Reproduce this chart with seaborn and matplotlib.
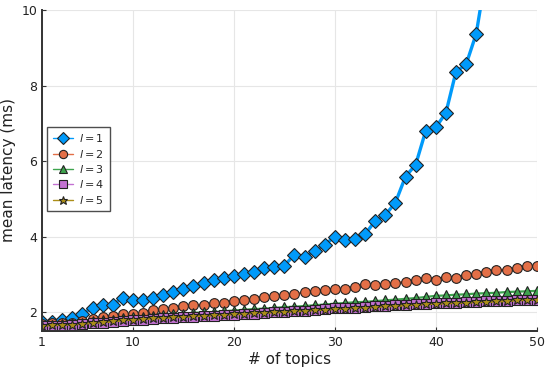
import matplotlib
matplotlib.use("Agg")
import matplotlib.pyplot as plt
import seaborn as sns
import pandas as pd

sns.set_theme(style="white")
plt.rcParams["font.family"] = ["DejaVu Sans"]

topics = list(range(1, 51))

lat_l1 = [1.74, 1.74, 1.80, 1.85, 1.95, 2.12, 2.18, 2.20, 2.37, 2.33,
          2.32, 2.37, 2.45, 2.53, 2.60, 2.70, 2.76, 2.85, 2.90, 2.95,
          3.00, 3.07, 3.18, 3.19, 3.23, 3.52, 3.46, 3.61, 3.78, 4.00,
          3.90, 3.93, 4.06, 4.42, 4.57, 4.90, 5.59, 5.90, 6.80, 6.89,
          7.28, 8.37, 8.56, 9.37, 11.0, 12.8, 14.5, 16.5, 18.6, 21.0]
lat_l2 = [1.68, 1.70, 1.70, 1.72, 1.75, 1.81, 1.88, 1.90, 1.95, 1.95,
          1.97, 2.05, 2.08, 2.11, 2.15, 2.18, 2.20, 2.23, 2.25, 2.30,
          2.33, 2.35, 2.40, 2.42, 2.45, 2.48, 2.52, 2.56, 2.59, 2.62,
          2.62, 2.66, 2.73, 2.71, 2.75, 2.78, 2.79, 2.84, 2.91, 2.86,
          2.93, 2.91, 2.99, 3.01, 3.05, 3.12, 3.12, 3.16, 3.23, 3.22]
lat_l3 = [1.66, 1.67, 1.68, 1.70, 1.72, 1.75, 1.78, 1.80, 1.84, 1.86,
          1.87, 1.90, 1.92, 1.94, 1.96, 1.98, 1.99, 2.00, 2.02, 2.04,
          2.06, 2.08, 2.09, 2.11, 2.13, 2.14, 2.16, 2.18, 2.20, 2.22,
          2.24, 2.26, 2.27, 2.29, 2.31, 2.33, 2.35, 2.37, 2.40, 2.43,
          2.44, 2.46, 2.47, 2.49, 2.50, 2.51, 2.53, 2.54, 2.55, 2.56]
lat_l4 = [1.62, 1.63, 1.64, 1.66, 1.68, 1.70, 1.72, 1.74, 1.76, 1.78,
          1.79, 1.81, 1.83, 1.84, 1.86, 1.88, 1.89, 1.90, 1.92, 1.93,
          1.95, 1.96, 1.98, 1.99, 2.01, 2.02, 2.04, 2.06, 2.08, 2.10,
          2.11, 2.12, 2.14, 2.15, 2.16, 2.18, 2.19, 2.21, 2.22, 2.24,
          2.24, 2.25, 2.26, 2.27, 2.28, 2.29, 2.30, 2.31, 2.31, 2.32]
lat_l5 = [1.64, 1.65, 1.66, 1.67, 1.69, 1.71, 1.73, 1.75, 1.78, 1.80,
          1.81, 1.83, 1.84, 1.86, 1.87, 1.89, 1.90, 1.91, 1.93, 1.94,
          1.95, 1.97, 1.98, 1.99, 2.00, 2.02, 2.03, 2.05, 2.06, 2.08,
          2.09, 2.11, 2.12, 2.13, 2.15, 2.16, 2.18, 2.19, 2.21, 2.22,
          2.23, 2.24, 2.25, 2.26, 2.27, 2.28, 2.29, 2.31, 2.32, 2.33]

series = [lat_l1, lat_l2, lat_l3, lat_l4, lat_l5]
labels = [r"$l = 1$", r"$l = 2$", r"$l = 3$", r"$l = 4$", r"$l = 5$"]
colors = ["#009AFA", "#E36F47", "#3EA44E", "#C371D2", "#AC8E18"]
markers = ["D", "o", "^", "s", "*"]
msizes = [7.5, 7, 7, 7, 7.5]
lwidths = [2.4, 1.6, 1.6, 1.6, 1.6]

fig = plt.figure(figsize=(5.5, 3.71), dpi=100)
ax = fig.add_axes([0.0764, 0.108, 0.8996, 0.865])

for vals, lab, col, mk, ms, lw in zip(series, labels, colors, markers, msizes, lwidths):
    df = pd.DataFrame({"topics": topics, "latency": vals})
    sns.lineplot(data=df, x="topics", y="latency", ax=ax, color=col, label=lab,
                 marker=mk, markersize=ms, markeredgecolor="#222222",
                 markeredgewidth=0.8, linewidth=lw, clip_on=True)

ax.set_xlim(1, 50)
ax.set_ylim(1.5, 10)
ax.set_xticks([1, 10, 20, 30, 40, 50])
ax.set_yticks([2, 4, 6, 8, 10])
ax.grid(True, color="#e6e6e6", linewidth=0.8)
ax.set_axisbelow(True)

for side in ["top", "right"]:
    ax.spines[side].set_visible(False)
for side in ["left", "bottom"]:
    ax.spines[side].set_color("#333333")
    ax.spines[side].set_linewidth(1.4)

ax.tick_params(direction="in", length=3, width=0.8, labelsize=9,
               colors="#333333", labelcolor="#222222", left=True, bottom=True)
ax.set_xlabel("# of topics", fontsize=11, color="#222222", labelpad=2)
ax.set_ylabel("mean latency (ms)", fontsize=11, color="#222222")

leg = ax.legend(loc="upper left", bbox_to_anchor=(0.01, 0.636), fontsize=8,
                frameon=True, fancybox=False, edgecolor="#222222",
                handlelength=1.8, handletextpad=0.6, borderpad=0.5,
                labelspacing=0.3, borderaxespad=0, markerscale=0.85)
leg.get_frame().set_linewidth(1.0)
for line in leg.get_lines():
    line.set_linewidth(1.0)

fig.savefig("out.png", dpi=100)
